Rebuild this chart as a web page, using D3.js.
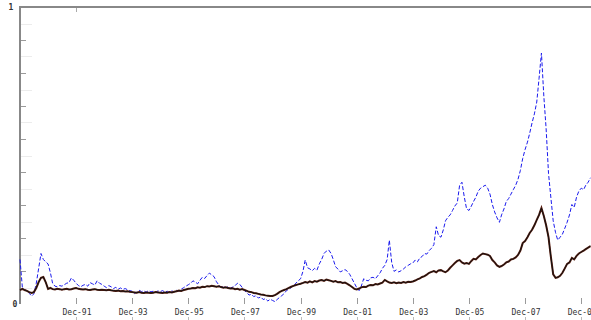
<!DOCTYPE html>
<html>
<head>
<meta charset="utf-8">
<script src="https://cdn.jsdelivr.net/npm/d3@7"></script>
<style>
  body { margin: 0; background: #fff; }
  .tick-label { font-family: "DejaVu Sans Mono", monospace; font-size: 8px; fill: #333; }
</style>
</head>
<body>
<svg id="chart" width="591" height="320"></svg>
<script>
// monthly series, starting Jan 1990
var startYear = 1990;

var blueSeries = [
  0.150,0.055,0.048,0.045,0.036,0.027,0.034,0.070,0.120,0.170,0.150,0.142,
  0.135,0.105,0.070,0.060,0.058,0.062,0.060,0.065,0.070,0.072,0.088,0.080,
  0.070,0.062,0.058,0.063,0.066,0.060,0.072,0.068,0.064,0.078,0.070,0.066,
  0.060,0.055,0.062,0.058,0.052,0.056,0.050,0.054,0.049,0.052,0.048,0.045,
  0.043,0.035,0.040,0.046,0.042,0.044,0.040,0.045,0.041,0.043,0.039,0.044,
  0.042,0.045,0.040,0.043,0.038,0.044,0.041,0.046,0.043,0.050,0.055,0.060,
  0.065,0.070,0.078,0.074,0.068,0.080,0.090,0.086,0.096,0.104,0.098,0.092,
  0.075,0.064,0.057,0.060,0.055,0.058,0.054,0.057,0.062,0.070,0.066,0.056,
  0.045,0.038,0.030,0.033,0.025,0.028,0.020,0.024,0.015,0.018,0.010,0.016,
  0.012,0.008,0.015,0.022,0.028,0.035,0.045,0.050,0.055,0.062,0.070,0.078,
  0.085,0.110,0.148,0.122,0.118,0.112,0.120,0.114,0.135,0.150,0.170,0.178,
  0.182,0.170,0.150,0.125,0.118,0.108,0.112,0.116,0.110,0.100,0.085,0.070,
  0.055,0.045,0.060,0.085,0.080,0.078,0.088,0.090,0.085,0.095,0.105,0.120,
  0.130,0.150,0.215,0.140,0.110,0.115,0.108,0.112,0.118,0.125,0.130,0.135,
  0.138,0.148,0.142,0.155,0.160,0.170,0.168,0.180,0.188,0.200,0.260,0.230,
  0.225,0.250,0.280,0.292,0.300,0.315,0.330,0.340,0.400,0.410,0.360,0.320,
  0.315,0.330,0.345,0.360,0.380,0.390,0.395,0.400,0.390,0.370,0.335,0.310,
  0.290,0.275,0.300,0.320,0.345,0.355,0.370,0.385,0.400,0.420,0.450,0.490,
  0.520,0.545,0.575,0.610,0.640,0.680,0.760,0.845,0.700,0.590,0.440,0.360,
  0.280,0.240,0.215,0.225,0.235,0.255,0.275,0.300,0.335,0.325,0.360,0.380,
  0.390,0.385,0.400,0.410,0.425
];

var blackSeries = [
  0.047,0.051,0.047,0.044,0.040,0.037,0.040,0.054,0.074,0.088,0.091,0.074,
  0.051,0.054,0.050,0.049,0.051,0.050,0.048,0.050,0.051,0.049,0.050,0.052,
  0.054,0.051,0.050,0.049,0.050,0.048,0.047,0.049,0.050,0.048,0.047,0.048,
  0.047,0.046,0.048,0.046,0.045,0.044,0.045,0.043,0.044,0.042,0.043,0.041,
  0.040,0.039,0.038,0.040,0.038,0.037,0.039,0.038,0.037,0.038,0.040,0.039,
  0.038,0.037,0.039,0.038,0.040,0.039,0.041,0.043,0.045,0.044,0.047,0.049,
  0.051,0.052,0.054,0.053,0.056,0.055,0.058,0.057,0.060,0.059,0.061,0.060,
  0.058,0.060,0.057,0.055,0.056,0.054,0.052,0.053,0.050,0.051,0.048,0.050,
  0.047,0.044,0.041,0.040,0.037,0.036,0.034,0.032,0.031,0.029,0.028,0.027,
  0.027,0.030,0.034,0.040,0.044,0.047,0.050,0.054,0.058,0.061,0.064,0.066,
  0.068,0.071,0.074,0.072,0.076,0.073,0.077,0.075,0.079,0.081,0.078,0.082,
  0.080,0.078,0.075,0.077,0.073,0.074,0.071,0.072,0.068,0.063,0.057,0.051,
  0.049,0.052,0.056,0.058,0.057,0.062,0.064,0.063,0.067,0.066,0.069,0.072,
  0.081,0.076,0.072,0.071,0.073,0.070,0.072,0.071,0.074,0.072,0.075,0.074,
  0.076,0.079,0.083,0.086,0.091,0.094,0.099,0.105,0.108,0.111,0.107,0.113,
  0.114,0.110,0.107,0.113,0.122,0.130,0.138,0.145,0.148,0.140,0.136,0.138,
  0.135,0.145,0.152,0.150,0.158,0.165,0.170,0.168,0.166,0.162,0.148,0.140,
  0.130,0.125,0.128,0.133,0.140,0.143,0.150,0.152,0.157,0.165,0.180,0.205,
  0.212,0.225,0.239,0.250,0.265,0.283,0.300,0.323,0.296,0.265,0.225,0.160,
  0.100,0.088,0.090,0.095,0.105,0.120,0.135,0.140,0.155,0.150,0.162,0.170,
  0.175,0.180,0.185,0.190,0.195
];

// x tick years (end of December), y tick steps
var tickYears = [1991, 1993, 1995, 1997, 1999, 2001, 2003, 2005, 2007, 2009];
var yTickCount = 9;
var yLabels = [{v: 0, text: "0"}, {v: 1, text: "1"}];

var svg = d3.select("#chart"),
  width = +svg.attr("width"),
  plotLeft = 20, plotTop = 7, plotBottom = 304;

var x = d3.scaleTime()
  .domain([new Date(1990, 0, 1), new Date(2010, 4, 8)])
  .range([plotLeft, width]);

var y = d3.scaleLinear()
  .domain([0, 1])
  .range([plotBottom, plotTop]);

function monthDate(i) { return new Date(startYear, i, 1); }

var tickDates = tickYears.map(function(yr) { return new Date(yr, 11, 31); });
var fmt = d3.timeFormat("%b-%y");

// minor y ticks (very faint)
var minor = d3.range(0, yTickCount).map(function(i) { return (i + 0.5) / yTickCount; });
svg.append("g").selectAll("line").data(minor).enter().append("line")
  .attr("x1", plotLeft).attr("x2", plotLeft + 12)
  .attr("y1", function(d) { return Math.round(y(d)) + 0.5; })
  .attr("y2", function(d) { return Math.round(y(d)) + 0.5; })
  .attr("stroke", "#ececec").attr("stroke-width", 1);

// major y ticks, inward
var major = d3.range(1, yTickCount).map(function(i) { return i / yTickCount; });
svg.append("g").selectAll("line").data(major).enter().append("line")
  .attr("x1", plotLeft).attr("x2", plotLeft + 6)
  .attr("y1", function(d) { return Math.round(y(d)) + 0.5; })
  .attr("y2", function(d) { return Math.round(y(d)) + 0.5; })
  .attr("stroke", "#9a9a9a").attr("stroke-width", 1);

// x ticks at bottom (pointing up) and the cut-off row underneath
var xt = svg.append("g");
xt.selectAll(".up").data(tickDates).enter().append("line")
  .attr("x1", function(d) { return Math.round(x(d)) + 0.5; })
  .attr("x2", function(d) { return Math.round(x(d)) + 0.5; })
  .attr("y1", plotBottom - 6).attr("y2", plotBottom)
  .attr("stroke", "#9a9a9a");
xt.selectAll(".down").data(tickDates).enter().append("line")
  .attr("x1", function(d) { return Math.round(x(d)) + 0.5; })
  .attr("x2", function(d) { return Math.round(x(d)) + 0.5; })
  .attr("y1", 317).attr("y2", 320)
  .attr("stroke", "#bbb");
xt.selectAll("text").data(tickDates).enter().append("text")
  .attr("class", "tick-label")
  .attr("x", function(d) { return x(d) + 1; })
  .attr("y", 315)
  .attr("text-anchor", "middle")
  .text(function(d) { return fmt(d); });

// one tick on the top frame
svg.append("line")
  .attr("x1", Math.round(x(tickDates[0])) + 0.5).attr("x2", Math.round(x(tickDates[0])) + 0.5)
  .attr("y1", plotTop).attr("y2", plotTop + 5)
  .attr("stroke", "#aaa");

// frame: left axis and top border
svg.append("line")
  .attr("x1", plotLeft).attr("x2", plotLeft)
  .attr("y1", plotTop - 1).attr("y2", plotBottom)
  .attr("stroke", "#888").attr("stroke-width", 2);
svg.append("line")
  .attr("x1", plotLeft).attr("x2", width)
  .attr("y1", plotTop).attr("y2", plotTop)
  .attr("stroke", "#888").attr("stroke-width", 2);

// y labels
svg.append("g").selectAll("text").data(yLabels).enter().append("text")
  .attr("class", "tick-label")
  .attr("x", function(d) { return d.v === 0 ? 15 : 11; })
  .attr("y", function(d) { return y(d.v) + 3; })
  .attr("text-anchor", "middle")
  .style("font-weight", "bold")
  .text(function(d) { return d.text; });

var line = d3.line()
  .x(function(d, i) { return x(monthDate(i)); })
  .y(function(d) { return y(d); });

svg.append("path")
  .datum(blueSeries)
  .attr("fill", "none")
  .attr("stroke", "#1a1aee")
  .attr("stroke-width", 1)
  .attr("stroke-dasharray", "4,2")
  .attr("d", line);

svg.append("path")
  .datum(blackSeries)
  .attr("fill", "none")
  .attr("stroke", "#5a1e10")
  .attr("stroke-width", 2)
  .attr("d", line);
svg.append("path")
  .datum(blackSeries)
  .attr("fill", "none")
  .attr("stroke", "#111")
  .attr("stroke-width", 1)
  .attr("d", line);
</script>
</body>
</html>
